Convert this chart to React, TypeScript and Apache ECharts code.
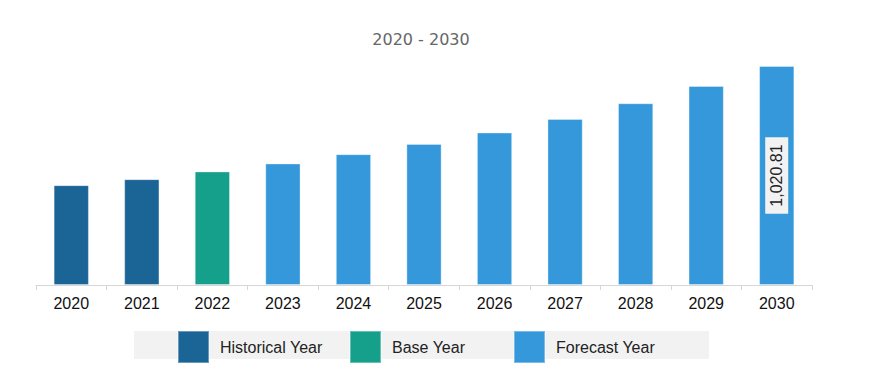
import React, { useEffect, useRef } from "react";
import * as echarts from "echarts";

const categories = ["2020", "2021", "2022", "2023", "2024", "2025", "2026", "2027", "2028", "2029", "2030"];
const historicalValues = [465.5, 493.4, null, null, null, null, null, null, null, null, null];
const baseValues = [null, null, 529.3, null, null, null, null, null, null, null, null];
const forecastValues = [null, null, null, 566.5, 609.8, 657.8, 710.8, 774.1, 847.2, 927.7, 1020.81];
const seriesNames = ["Historical Year", "Base Year", "Forecast Year"];
const seriesColors = ["#1a6596", "#14a08b", "#3498db"];
const titleText = "2020 - 2030";

const FONT = "'Liberation Sans', Arial, sans-serif";

export default function App() {
  const ref = useRef<HTMLDivElement>(null);
  useEffect(() => {
    if (!ref.current) return;
    const chart = echarts.init(ref.current, null, { renderer: "svg" });
    const lastIdx = forecastValues.length - 1;
    const toData = (arr: (number | null)[], withLabel: boolean) =>
      arr.map((v, i) => {
        if (v == null) return "-";
        if (withLabel && i === lastIdx) {
          return {
            value: v,
            label: {
              show: true,
              position: "inside",
              rotate: 90,
              color: "#222",
              fontFamily: FONT,
              fontSize: 16,
              backgroundColor: "#f2f2f2",
              padding: [4, 7, 3, 7],
              formatter: (p: any) =>
                Number(p.value).toLocaleString("en-US", { minimumFractionDigits: 2, maximumFractionDigits: 2 }),
            },
          };
        }
        return v;
      });
    const allData = [historicalValues, baseValues, forecastValues];
    const legendLefts = [177, 349, 513];
    chart.setOption({
      animation: false,
      title: {
        text: titleText,
        left: 421,
        textAlign: "center",
        top: 31,
        padding: 0,
        textStyle: { fontFamily: "'DejaVu Sans', sans-serif", fontSize: 16, fontWeight: "normal", color: "#666666" },
      },
      graphic: [
        {
          type: "rect",
          left: 134,
          top: 331,
          shape: { width: 575, height: 28 },
          style: { fill: "#f2f2f2" },
          z: -1,
        },
      ],
      legend: seriesNames.map((n, i) => ({
        data: [n],
        left: legendLefts[i],
        top: 330,
        padding: 0,
        itemWidth: 31,
        itemHeight: 32,
        icon: "rect",
        selectedMode: false,
        textStyle: { fontFamily: FONT, fontSize: 16, color: "#222", padding: [0, 0, 0, 6] },
      })),
      grid: { left: 36, right: 64, top: 66, bottom: 105, containLabel: false },
      xAxis: {
        type: "category",
        data: categories,
        axisLine: { lineStyle: { color: "#d6d6d6", width: 1 } },
        axisTick: { show: true, length: 5, lineStyle: { color: "#d6d6d6" } },
        axisLabel: { color: "#111", fontFamily: FONT, fontSize: 16, margin: 10 },
      },
      yAxis: {
        type: "value",
        min: 0,
        max: 1020.81,
        show: false,
        splitLine: { show: false },
      },
      series: seriesNames.map((n, i) => ({
        name: n,
        type: "bar",
        stack: "total",
        barWidth: "50%",
        itemStyle: { color: seriesColors[i], borderColor: "rgba(255,255,255,0.35)", borderWidth: 1 },
        data: toData(allData[i], i === 2),
      })),
    });
    return () => chart.dispose();
  }, []);
  return <div ref={ref} style={{ position: "absolute", left: 0, top: 0, width: 876, height: 390 }} />;
}
